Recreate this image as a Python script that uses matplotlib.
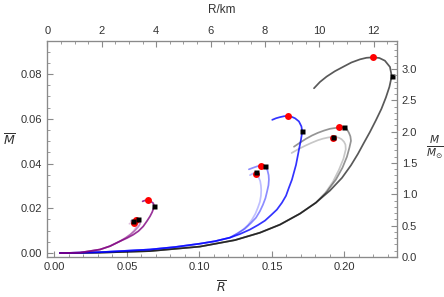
import matplotlib
matplotlib.use("Agg")
import matplotlib.pyplot as plt
from matplotlib.ticker import MultipleLocator

plt.rcParams['font.family'] = ['Liberation Sans', 'DejaVu Sans']
plt.rcParams['mathtext.fontset'] = 'dejavusans'

# --- gray family (largest stars) ---
gray_dark_R = [0.0038, 0.0314, 0.0659, 0.1003, 0.1245, 0.1417, 0.1555, 0.1693, 0.1803, 0.1900, 0.1983,
               0.2045, 0.2093, 0.2134, 0.2176, 0.2217, 0.2255, 0.2286, 0.2310, 0.2326, 0.2314, 0.2279,
               0.2241, 0.2199, 0.2152, 0.2107, 0.2048, 0.1992, 0.1934, 0.1877, 0.1831, 0.1790]
gray_dark_M = [0.0, 0.0002, 0.0009, 0.0029, 0.0058, 0.0091, 0.0127, 0.0176, 0.0225, 0.0279, 0.0336,
               0.0392, 0.0443, 0.0492, 0.0541, 0.0593, 0.0644, 0.0695, 0.0742, 0.0790, 0.0831, 0.0859,
               0.0871, 0.0874, 0.0872, 0.0865, 0.0851, 0.0832, 0.0812, 0.0788, 0.0764, 0.0736]
gray_mid_R = [0.0038, 0.0314, 0.0659, 0.1003, 0.1245, 0.1417, 0.1555, 0.1693, 0.1803, 0.1879, 0.1941,
              0.1986, 0.2017, 0.2034, 0.2045, 0.2041, 0.2031, 0.2017, 0.1997, 0.1962, 0.1931, 0.1900,
              0.1859, 0.1817, 0.1776, 0.1734, 0.1693, 0.1652]
gray_mid_M = [0.0, 0.0002, 0.0009, 0.0029, 0.0058, 0.0091, 0.0127, 0.0176, 0.0225, 0.0274, 0.0328,
              0.0381, 0.0430, 0.0470, 0.0501, 0.0521, 0.0537, 0.0553, 0.0562, 0.0561, 0.0558, 0.0555,
              0.0547, 0.0537, 0.0525, 0.0510, 0.0493, 0.0475]
gray_light_R = [0.0038, 0.0314, 0.0659, 0.1003, 0.1245, 0.1417, 0.1555, 0.1693, 0.1803, 0.1866, 0.1921,
                0.1962, 0.1993, 0.2009, 0.2007, 0.1997, 0.1981, 0.1962, 0.1941, 0.1921, 0.1886, 0.1852,
                0.1817, 0.1772, 0.1728, 0.1679, 0.1636]
gray_light_M = [0.0, 0.0002, 0.0009, 0.0029, 0.0058, 0.0091, 0.0127, 0.0176, 0.0225, 0.0267, 0.0319,
                0.0372, 0.0421, 0.0463, 0.0484, 0.0497, 0.0508, 0.0515, 0.0518, 0.0519, 0.0516, 0.0511,
                0.0504, 0.0492, 0.0479, 0.0463, 0.0447]

# --- blue family ---
blue_dark_R = [0.0038, 0.0314, 0.0659, 0.0831, 0.1003, 0.1107, 0.1210, 0.1279, 0.1348, 0.1403, 0.1452,
               0.1493, 0.1534, 0.1569, 0.1597, 0.1617, 0.1638, 0.1666, 0.1686, 0.1700, 0.1709, 0.1703,
               0.1686, 0.1659, 0.1634, 0.1612, 0.1583, 0.1555, 0.1528, 0.1502]
blue_dark_M = [0.0, 0.0004, 0.0016, 0.0027, 0.0042, 0.0053, 0.0069, 0.0085, 0.0105, 0.0125, 0.0145,
               0.0169, 0.0194, 0.0225, 0.0256, 0.0292, 0.0328, 0.0394, 0.0461, 0.0506, 0.0543, 0.0566,
               0.0588, 0.0602, 0.0609, 0.0613, 0.0611, 0.0607, 0.0602, 0.0595]
blue_mid_R = [0.0038, 0.0314, 0.0659, 0.0831, 0.1003, 0.1107, 0.1210, 0.1266, 0.1314, 0.1355, 0.1390,
              0.1417, 0.1438, 0.1455, 0.1466, 0.1476, 0.1479, 0.1477, 0.1469, 0.1452, 0.1431, 0.1407,
              0.1383, 0.1341]
blue_mid_M = [0.0, 0.0004, 0.0016, 0.0027, 0.0042, 0.0053, 0.0069, 0.0089, 0.0109, 0.0134, 0.0158,
              0.0187, 0.0216, 0.0245, 0.0274, 0.0303, 0.0328, 0.0348, 0.0370, 0.0388, 0.0392, 0.0389,
              0.0384, 0.0374]
blue_light_R = [0.0038, 0.0314, 0.0659, 0.0831, 0.1003, 0.1107, 0.1210, 0.1259, 0.1300, 0.1334, 0.1362,
                0.1386, 0.1403, 0.1417, 0.1424, 0.1426, 0.1424, 0.1419, 0.1410, 0.1400, 0.1386, 0.1369,
                0.1348]
blue_light_M = [0.0, 0.0004, 0.0016, 0.0027, 0.0042, 0.0053, 0.0069, 0.0087, 0.0105, 0.0125, 0.0149,
                0.0176, 0.0203, 0.0229, 0.0256, 0.0281, 0.0301, 0.0321, 0.0336, 0.0350, 0.0357, 0.0355,
                0.0348]

# --- purple family (smallest stars) ---
purple_dark_R = [0.0038, 0.0176, 0.0245, 0.0314, 0.0383, 0.0452, 0.0500, 0.0543, 0.0579, 0.0612, 0.0638,
                 0.0659, 0.0674, 0.0684, 0.0686, 0.0681, 0.0666, 0.0643, 0.0624, 0.0608]
purple_dark_M = [0.0, 0.0002, 0.0009, 0.0016, 0.0031, 0.0053, 0.0067, 0.0082, 0.0098, 0.0119, 0.0143,
                 0.0164, 0.0183, 0.0201, 0.0214, 0.0223, 0.0230, 0.0235, 0.0235, 0.0231]
purple_mid_R = [0.0038, 0.0176, 0.0245, 0.0314, 0.0383, 0.0452, 0.0493, 0.0528, 0.0555, 0.0579, 0.0590,
                0.0590, 0.0581, 0.0562, 0.0545, 0.0528]
purple_mid_M = [0.0, 0.0002, 0.0009, 0.0016, 0.0031, 0.0053, 0.0069, 0.0085, 0.0100, 0.0118, 0.0131,
                0.0141, 0.0150, 0.0150, 0.0147, 0.0143]
purple_light_R = [0.0038, 0.0176, 0.0245, 0.0314, 0.0383, 0.0452, 0.0486, 0.0521, 0.0548, 0.0566, 0.0569,
                  0.0562, 0.0548, 0.0531, 0.0517]
purple_light_M = [0.0, 0.0002, 0.0009, 0.0016, 0.0031, 0.0053, 0.0066, 0.0082, 0.0100, 0.0118, 0.0129,
                  0.0137, 0.0139, 0.0136, 0.0131]

# max-mass points (red) and squares (black)
maxM_R = [0.2199, 0.1962, 0.1921, 0.1612, 0.1422, 0.1390, 0.0643, 0.0562, 0.0550]
maxM_M = [0.0874, 0.0561, 0.0516, 0.0613, 0.0390, 0.0354, 0.0235, 0.0147, 0.0135]
sq_R = [0.2326, 0.1997, 0.1923, 0.1709, 0.1452, 0.1390, 0.0688, 0.0574, 0.0545]
sq_M = [0.0790, 0.0562, 0.0520, 0.0543, 0.0391, 0.0362, 0.0209, 0.0152, 0.0142]

fig = plt.figure(figsize=(4.44, 2.97), dpi=100)
ax = fig.add_axes([0.105, 0.135, 0.789, 0.727])

curves = [
    (gray_dark_R, gray_dark_M, 'black', 0.65),
    (gray_mid_R, gray_mid_M, 'black', 0.42),
    (gray_light_R, gray_light_M, 'black', 0.22),
    (blue_dark_R, blue_dark_M, (0, 0, 1), 0.8),
    (blue_mid_R, blue_mid_M, (0, 0, 1), 0.45),
    (blue_light_R, blue_light_M, (0, 0, 1), 0.25),
    (purple_dark_R, purple_dark_M, (0.5, 0, 0.5), 0.8),
    (purple_mid_R, purple_mid_M, (0.5, 0, 0.5), 0.45),
    (purple_light_R, purple_light_M, (0.5, 0, 0.5), 0.25),
]
for r, m, c, a in curves:
    ax.plot(r, m, color=c, alpha=a, lw=1.25, solid_capstyle='round', solid_joinstyle='round')

ax.plot(maxM_R, maxM_M, 'o', color='red', ms=5, mec='none', zorder=5)
ax.plot(sq_R, sq_M, 's', color='black', ms=3.6, mec='none', zorder=6)

frame_col = '#8a8a8a'
label_col = '#333333'

ax.set_xlim(-0.0054, 0.2362)
ax.set_ylim(-0.0017, 0.0947)
ax.xaxis.set_major_locator(MultipleLocator(0.05))
ax.xaxis.set_minor_locator(MultipleLocator(0.01))
ax.yaxis.set_major_locator(MultipleLocator(0.02))
ax.yaxis.set_minor_locator(MultipleLocator(0.005))
ax.xaxis.set_major_formatter(plt.FormatStrFormatter('%.2f'))
ax.yaxis.set_major_formatter(plt.FormatStrFormatter('%.2f'))
ax.tick_params(which='both', direction='in', top=False, right=False, color=frame_col,
               labelsize=8, labelcolor=label_col)
ax.tick_params(which='major', length=4)
ax.tick_params(which='minor', length=2)

# right axis: M / M_sun
ax2 = ax.twinx()
ax2.set_ylim(0, 3.447)
ax2.yaxis.set_major_locator(MultipleLocator(0.5))
ax2.yaxis.set_minor_locator(MultipleLocator(0.1))
ax2.yaxis.set_major_formatter(plt.FormatStrFormatter('%.1f'))
ax2.tick_params(which='both', direction='in', color=frame_col, labelsize=8, labelcolor=label_col)
ax2.tick_params(which='major', length=4)
ax2.tick_params(which='minor', length=2)

# top axis: R in km
ax3 = ax.twiny()
ax3.set_xlim(-0.03, 12.85)
ax3.xaxis.set_major_locator(MultipleLocator(2))
ax3.xaxis.set_minor_locator(MultipleLocator(0.5))
ax3.tick_params(which='both', direction='in', color=frame_col, labelsize=8, labelcolor=label_col)
ax3.tick_params(which='major', length=4)
ax3.tick_params(which='minor', length=2)

for a in (ax, ax2, ax3):
    for s in a.spines.values():
        s.set_color(frame_col)
        s.set_linewidth(0.8)

fig.text(221.7 / 444, 1 - 288 / 297, r'$\overline{R}$', ha='center', va='center', fontsize=9, color=label_col)
fig.text(221.7 / 444, 1 - 10 / 297, 'R/km', ha='center', va='center', fontsize=8.5, color=label_col)
fig.text(9 / 444, 1 - 141 / 297, r'$\overline{M}$', ha='center', va='center', fontsize=9, color=label_col)
fig.text(434.5 / 444, 1 - 147 / 297, r'$\frac{M}{M_{\odot}}$', ha='center', va='center', fontsize=11,
         color=label_col)

fig.savefig('out.png', dpi=100)
